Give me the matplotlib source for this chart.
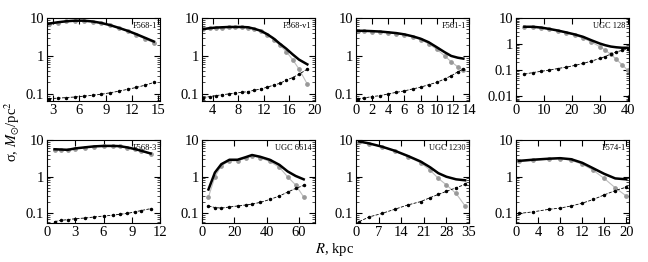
import matplotlib
matplotlib.use("Agg")
import matplotlib.pyplot as plt
from matplotlib.ticker import LogLocator, NullFormatter, FixedLocator

plt.rcParams['font.family'] = ['Liberation Serif', 'DejaVu Serif']
plt.rcParams['mathtext.fontset'] = 'stix'

# galaxy names
names = ["F568-1", "F568-v1", "F561-1", "UGC 128",
         "F568-3", "UGC 6614", "UGC 1230", "F574-1"]

# radii, kpc
r_f568_1 = [2.5, 3.5, 4.5, 5.5, 6.5, 7.5, 8.5, 9.5, 10.5, 11.5, 12.5, 13.5, 14.5]
r_f568_v1 = [2.5, 3.5, 4.5, 5.5, 6.5, 7.5, 8.5, 9.5, 10.5, 11.5, 12.5, 13.5, 14.5,
             15.5, 16.5, 17.5, 18.8]
r_f561_1 = [0.2, 1, 2, 3, 4, 5, 6, 7, 8, 9, 10, 11, 11.8, 12.6, 13.3]
r_ugc128 = [3, 6, 9, 12, 15, 18, 21, 24, 27, 30, 32, 34, 36, 38, 40]
r_f568_3 = [0.8, 1.5, 2.2, 3, 4, 5, 6, 7, 7.7, 8.5, 9.3, 10, 11]
r_ugc6614 = [4, 8, 12, 17, 22, 27, 31, 36, 42, 48, 53, 58, 63]
r_ugc1230 = [1, 4, 8, 12, 16, 20, 23, 25.5, 28, 31, 33.8]
r_f574_1 = [0.5, 3, 6, 8, 10, 12, 14, 16, 18, 20]

# stellar disc surface density (grey points)
star_f568_1 = [7.0, 7.6, 8.1, 8.4, 8.4, 8.0, 7.3, 6.4, 5.4, 4.5, 3.6, 2.8, 2.2]
star_f568_v1 = [5.0, 5.3, 5.5, 5.6, 5.7, 5.7, 5.7, 5.6, 5.1, 4.5, 3.6, 2.7, 1.9,
                1.3, 0.8, 0.45, 0.18]
star_f561_1 = [4.5, 4.5, 4.4, 4.3, 4.1, 3.9, 3.6, 3.2, 2.7, 2.1, 1.5, 1.0, 0.7, 0.52, 0.42]
star_ugc128 = [4.5, 4.5, 4.2, 3.7, 3.2, 2.7, 2.2, 1.7, 1.2, 0.8, 0.58, 0.4, 0.26, 0.16, 0.1]
star_f568_3 = [5.5, 5.4, 5.3, 5.8, 6.2, 6.6, 6.8, 6.8, 6.7, 6.2, 5.6, 5.0, 4.2]
star_ugc6614 = [0.28, 1.0, 2.0, 2.7, 2.7, 3.2, 3.7, 3.3, 2.6, 1.8, 1.0, 0.6, 0.28]
star_ugc1230 = [9.0, 8.0, 6.5, 5.0, 3.5, 2.4, 1.5, 0.9, 0.6, 0.35, 0.16]
star_f574_1 = [2.6, 2.8, 3.0, 3.1, 2.8, 2.2, 1.5, 0.9, 0.5, 0.3]

# gas surface density (small black points)
gas_f568_1 = [0.075, 0.077, 0.08, 0.083, 0.087, 0.092, 0.098, 0.107, 0.118, 0.132, 0.148, 0.17, 0.2]
gas_f568_v1 = [0.08, 0.085, 0.09, 0.095, 0.1, 0.105, 0.11, 0.115, 0.125, 0.135, 0.15, 0.17, 0.19,
               0.23, 0.27, 0.33, 0.45]
gas_f561_1 = [0.075, 0.078, 0.085, 0.09, 0.1, 0.11, 0.12, 0.135, 0.15, 0.175, 0.2, 0.25, 0.3, 0.38, 0.45]
gas_ugc128 = [0.07, 0.08, 0.09, 0.1, 0.115, 0.13, 0.15, 0.18, 0.22, 0.28, 0.33, 0.42, 0.5, 0.57, 0.65]
gas_f568_3 = [0.06, 0.065, 0.068, 0.072, 0.075, 0.08, 0.085, 0.09, 0.095, 0.1, 0.11, 0.12, 0.135]
gas_ugc6614 = [0.16, 0.145, 0.14, 0.15, 0.16, 0.17, 0.18, 0.2, 0.24, 0.3, 0.38, 0.48, 0.58]
gas_ugc1230 = [0.06, 0.08, 0.1, 0.13, 0.17, 0.21, 0.27, 0.33, 0.4, 0.5, 0.62]
gas_f574_1 = [0.1, 0.11, 0.13, 0.14, 0.16, 0.19, 0.24, 0.32, 0.42, 0.52]

# total surface density (thick black line)
tot_f568_1 = [7.1, 7.7, 8.2, 8.5, 8.5, 8.1, 7.4, 6.5, 5.5, 4.6, 3.75, 3.0, 2.4]
tot_f568_v1 = [5.1, 5.4, 5.6, 5.7, 5.8, 5.8, 5.8, 5.7, 5.2, 4.6, 3.75, 2.9, 2.1,
               1.55, 1.1, 0.8, 0.6]
tot_f561_1 = [4.6, 4.6, 4.5, 4.4, 4.2, 4.0, 3.7, 3.3, 2.85, 2.3, 1.7, 1.25, 1.0, 0.9, 0.85]
tot_ugc128 = [4.6, 4.6, 4.3, 3.8, 3.3, 2.8, 2.35, 1.9, 1.4, 1.05, 0.9, 0.8, 0.75, 0.72, 0.72]
tot_f568_3 = [5.6, 5.5, 5.4, 5.9, 6.3, 6.7, 6.9, 6.9, 6.8, 6.3, 5.7, 5.1, 4.3]
tot_ugc6614 = [0.45, 1.3, 2.2, 2.9, 2.9, 3.4, 3.9, 3.5, 2.9, 2.1, 1.4, 1.05, 0.85]
tot_ugc1230 = [9.1, 8.1, 6.6, 5.1, 3.7, 2.6, 1.8, 1.25, 1.0, 0.85, 0.8]
tot_f574_1 = [2.7, 2.9, 3.1, 3.2, 3.0, 2.4, 1.7, 1.2, 0.9, 0.85]

radii = [r_f568_1, r_f568_v1, r_f561_1, r_ugc128, r_f568_3, r_ugc6614, r_ugc1230, r_f574_1]
stars = [star_f568_1, star_f568_v1, star_f561_1, star_ugc128,
         star_f568_3, star_ugc6614, star_ugc1230, star_f574_1]
gas = [gas_f568_1, gas_f568_v1, gas_f561_1, gas_ugc128,
       gas_f568_3, gas_ugc6614, gas_ugc1230, gas_f574_1]
total = [tot_f568_1, tot_f568_v1, tot_f561_1, tot_ugc128,
         tot_f568_3, tot_ugc6614, tot_ugc1230, tot_f574_1]

xlims = [(2.3, 15.2), (2.3, 20), (0, 14), (0, 40.5),
         (0, 12), (0, 70), (0, 35), (0, 20.5)]
xticks = [[3, 6, 9, 12, 15], [4, 8, 12, 16, 20], [0, 2, 4, 6, 8, 10, 12, 14], [0, 10, 20, 30, 40],
          [0, 3, 6, 9, 12], [0, 20, 40, 60], [0, 7, 14, 21, 28, 35], [0, 4, 8, 12, 16, 20]]
ylims = [(0.065, 10), (0.065, 10), (0.065, 10), (0.0065, 10),
         (0.055, 10), (0.055, 10), (0.055, 10), (0.055, 10)]

W, H = 648, 262
fig = plt.figure(figsize=(W / 100, H / 100), dpi=100)

lefts = [47, 202, 356, 516]
tops = [18, 140]
aw, ah = 113, 83

ylabels = {0.01: '0.01', 0.1: '0.1', 1: '1', 10: '10'}

for i in range(8):
    row, col = divmod(i, 4)
    ax = fig.add_axes([lefts[col] / W, 1 - (tops[row] + ah) / H, aw / W, ah / H])
    ax.set_yscale('log')
    # total
    ax.plot(radii[i], total[i], '-', color='black', lw=1.8, zorder=3)
    # stars
    ax.plot(radii[i], stars[i], '-', color='#bdbdbd', lw=0.8, marker='o', ms=2.4,
            mfc='#999999', mec='#999999', zorder=2)
    # gas
    ax.plot(radii[i], gas[i], '--', color='black', lw=0.6, marker='o', ms=1.5,
            mfc='black', mec='black', zorder=2)
    ax.set_xlim(*xlims[i])
    ax.set_ylim(*ylims[i])
    ax.xaxis.set_major_locator(FixedLocator(xticks[i]))
    ax.yaxis.set_minor_locator(LogLocator(base=10, subs=range(2, 10), numticks=10))
    ax.yaxis.set_minor_formatter(NullFormatter())
    yt = [t for t in [0.01, 0.1, 1, 10] if t >= ylims[i][0]]
    ax.set_yticks(yt)
    ax.set_yticklabels([ylabels[t] for t in yt])
    ax.tick_params(which='both', direction='in', top=True, right=True, labelsize=10.5, pad=2)
    ax.tick_params(which='major', length=4, width=0.8)
    ax.tick_params(which='minor', length=2, width=0.5)
    ax.text(0.97, 0.9, names[i], transform=ax.transAxes, ha='right', va='center', fontsize=6)
    for s in ax.spines.values():
        s.set_linewidth(0.8)

fig.text(12 / W, 1 - 132 / H, r'σ, $M_{\odot}$/pc$^2$', rotation=90, ha='center', va='center',
         fontsize=10.5)
fig.text(315 / W, 1 - 250 / H, r'$R$, kpc', ha='left', va='center', fontsize=10.5)

fig.savefig('out.png', dpi=100)
